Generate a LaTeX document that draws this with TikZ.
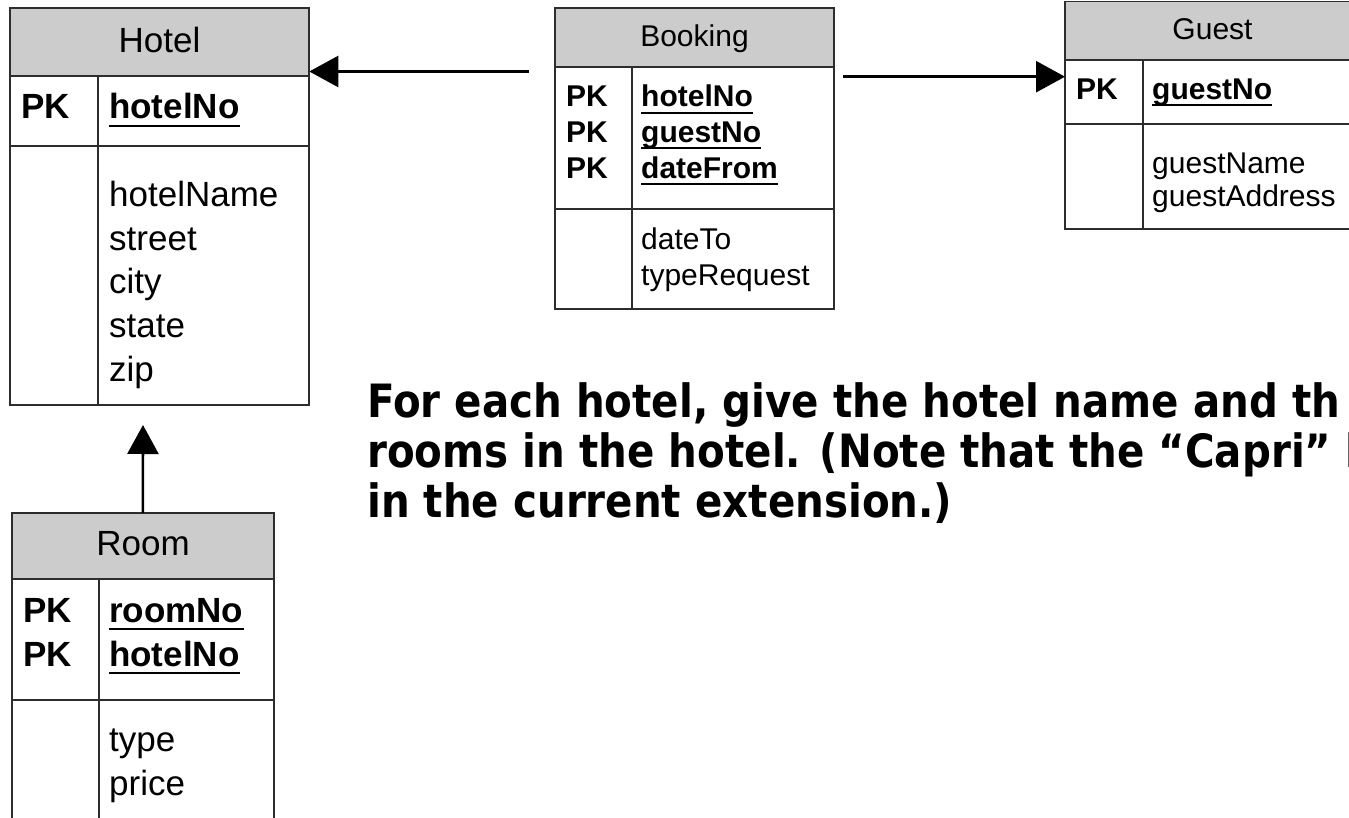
\documentclass[tikz,border=0pt]{standalone}
\usepackage{fontspec}
\setmainfont{Liberation Sans}
\newfontfamily\qfont{DejaVu Sans}[FakeStretch=0.88]
\usetikzlibrary{arrows.meta}
\definecolor{hg}{RGB}{204,204,204}
\definecolor{lc}{RGB}{45,45,45}
\newlength\qw
\newcommand\fbig{\fontsize{35}{42}\selectfont}
\newcommand\fsml{\fontsize{30}{36}\selectfont}
\begin{document}
\settowidth\qw{\qfont\bfseries\fontsize{10}{12}\selectfont For each hotel, give the hotel name and th}
\pgfmathsetmacro\qsize{10*973/\qw}
\begin{tikzpicture}[x=1pt,y=-1pt,
  box/.style={draw=lc, line width=1.8pt},
  tbl/.style={draw=lc, line width=1.8pt, inner sep=0pt, outer sep=0pt, anchor=north west},
  lblB/.style={anchor=base, inner sep=0pt, font=\fbig},
  lblS/.style={anchor=base, inner sep=0pt, font=\fsml},
  attB/.style={anchor=base west, inner sep=0pt, font=\fbig},
  attS/.style={anchor=base west, inner sep=0pt, font=\fsml},
  keyB/.style={anchor=base west, inner sep=0pt, font=\fbig\bfseries},
  keyS/.style={anchor=base west, inner sep=0pt, font=\fsml\bfseries},
  uline/.style={line width=2pt, black},
  arr/.style={line width=2.6pt, black, -{Triangle[length=29pt,width=31pt]}},
  qtxt/.style={anchor=base west, inner sep=0pt, font=\qfont\bfseries\fontsize{\qsize}{50}\selectfont}
]
\useasboundingbox (0,0) rectangle (1349,818);
\clip (0,0) rectangle (1349,818);
\fill[white] (0,0) rectangle (1349,818);

% ---------------- Hotel ----------------
\fill[hg] (10,8) rectangle (309.3,76);
\node[tbl, minimum width=299.3pt, minimum height=397pt] (hotel) at (10,8) {};
\draw[box] (10,76) -- (309.3,76);
\draw[box] (10,146) -- (309.3,146);
\draw[box] (98,76) -- (98,405);
\node[lblB] (hotelT) at (159.5,52.7) {Hotel};
\node[keyB] (hotelPK) at (21,119) {PK};
\node[keyB] (hotelK1) at (109,119) {hotelNo};
\draw[uline] ([yshift=-7pt]hotelK1.base west) -- ([yshift=-7pt]hotelK1.base east);
\node[attB] (hotelA1) at (109,207) {hotelName};
\node[attB] (hotelA2) at (109,250.5) {street};
\node[attB] (hotelA3) at (109,294) {city};
\node[attB] (hotelA4) at (109,337.5) {state};
\node[attB] (hotelA5) at (109,381) {zip};

% ---------------- Booking ----------------
\fill[hg] (555,8) rectangle (834,67);
\node[tbl, minimum width=279pt, minimum height=301pt] (booking) at (555,8) {};
\draw[box] (555,67) -- (834,67);
\draw[box] (555,209) -- (834,209);
\draw[box] (632,67) -- (632,309);
\node[lblS] (bookingT) at (694.5,46.7) {Booking};
\node[keyS] (bookingPK1) at (566,106.7) {PK};
\node[keyS] (bookingPK2) at (566,142.5) {PK};
\node[keyS] (bookingPK3) at (566,178.3) {PK};
\node[keyS] (bookingK1) at (641,106.7) {hotelNo};
\node[keyS] (bookingK2) at (641,142.5) {guestNo};
\node[keyS] (bookingK3) at (641,178.3) {dateFrom};
\draw[uline] ([yshift=-6pt]bookingK1.base west) -- ([yshift=-6pt]bookingK1.base east);
\draw[uline] ([yshift=-6pt]bookingK2.base west) -- ([yshift=-6pt]bookingK2.base east);
\draw[uline] ([yshift=-6pt]bookingK3.base west) -- ([yshift=-6pt]bookingK3.base east);
\node[attS] (bookingA1) at (641,250) {dateTo};
\node[attS] (bookingA2) at (641,286) {typeRequest};

% ---------------- Guest ----------------
\fill[hg] (1065,1.5) rectangle (1360,60);
\node[tbl, minimum width=295pt, minimum height=227.5pt] (guest) at (1065,1.5) {};
\draw[box] (1065,60) -- (1360,60);
\draw[box] (1065,124) -- (1360,124);
\draw[box] (1143,60) -- (1143,229);
\node[lblS] (guestT) at (1212.5,39.5) {Guest};
\node[keyS] (guestPK) at (1076,99.3) {PK};
\node[keyS] (guestK1) at (1152,99.3) {guestNo};
\draw[uline] ([yshift=-6pt]guestK1.base west) -- ([yshift=-6pt]guestK1.base east);
\node[attS] (guestA1) at (1152,174) {guestName};
\node[attS] (guestA2) at (1152,207) {guestAddress};

% ---------------- Room ----------------
\fill[hg] (11.7,513) rectangle (274,579);
\node[tbl, minimum width=262.3pt, minimum height=330pt] (room) at (11.7,513) {};
\draw[box] (11.7,579) -- (274,579);
\draw[box] (11.7,700) -- (274,700);
\draw[box] (99,579) -- (99,843);
\node[lblB] (roomT) at (143,555) {Room};
\node[keyB] (roomPK1) at (23,622) {PK};
\node[keyB] (roomPK2) at (23,666) {PK};
\node[keyB] (roomK1) at (109,622) {roomNo};
\node[keyB] (roomK2) at (109,666) {hotelNo};
\draw[uline] ([yshift=-7pt]roomK1.base west) -- ([yshift=-7pt]roomK1.base east);
\draw[uline] ([yshift=-7pt]roomK2.base west) -- ([yshift=-7pt]roomK2.base east);
\node[attB] (roomA1) at (109,751) {type};
\node[attB] (roomA2) at (109,795) {price};

% ---------------- Connectors ----------------
\coordinate (bL) at (529,71.5);
\coordinate (bR) at (843,76.7);
\coordinate (upTip) at (143,425);
\draw[arr] (bL) -- (bL -| hotel.east);
\draw[arr] (bR) -- (bR -| guest.west);
\draw[arr] (room.north) -- (upTip);

% ---------------- Question ----------------
\node[qtxt] (q1) at (367,417) {For each hotel, give the hotel name and th};
\node[qtxt] (q2) at (367,467) {rooms in the hotel. (Note that the “Capri” h};
\node[qtxt] (q3) at (367,517) {in the current extension.)};
\end{tikzpicture}
\end{document}
